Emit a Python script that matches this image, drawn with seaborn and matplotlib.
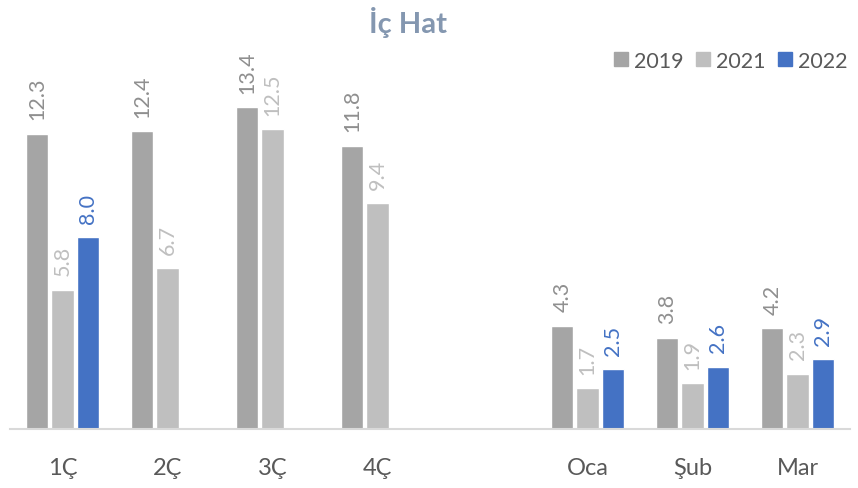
import numpy as np
import pandas as pd
import matplotlib
matplotlib.use("Agg")
import matplotlib.pyplot as plt
import seaborn as sns
from matplotlib.lines import Line2D

donemler = ["1Ç", "2Ç", "3Ç", "4Ç", "", "Oca", "Şub", "Mar"]
yillar = ["2019", "2021", "2022"]
v2019 = [12.3, 12.4, 13.4, 11.8, np.nan, 4.3, 3.8, 4.2]
v2021 = [5.8, 6.7, 12.5, 9.4, np.nan, 1.7, 1.9, 2.3]
v2022 = [8.0, np.nan, np.nan, np.nan, np.nan, 2.5, 2.6, 2.9]

renkler = {"2019": "#A5A5A5", "2021": "#BFBFBF", "2022": "#4472C4"}
etiket_renk = {"2019": "#8F8F8F", "2021": "#BFBFBF", "2022": "#4472C4"}

rows = []
for yil, vals in zip(yillar, [v2019, v2021, v2022]):
    for d, v in zip(donemler, vals):
        rows.append({"donem": d, "yil": yil, "deger": v})
df = pd.DataFrame(rows)

sns.set_style("white")
plt.rcParams["font.family"] = ["Lato", "DejaVu Sans"]

fig = plt.figure(figsize=(8.58, 4.89), dpi=100)
ax = fig.add_axes([10 / 858, 59 / 489, 840 / 858, 384 / 489])

sns.barplot(data=df, x="donem", y="deger", hue="yil", order=donemler,
            hue_order=yillar, palette=renkler, width=0.72, gap=0.12,
            saturation=1, errorbar=None, legend=False, ax=ax)

ax.set_ylim(0, 16)
ax.set_xlim(-0.5, len(donemler) - 0.5)

for cont, yil in zip(ax.containers, yillar):
    for bar in cont:
        h = bar.get_height()
        if np.isnan(h) or h == 0:
            continue
        ax.text(bar.get_x() + bar.get_width() / 2, h + 0.6, f"{h:.1f}",
                rotation=90, ha="center", va="bottom", fontsize=15.5,
                color=etiket_renk[yil])

ax.set_xlabel("")
ax.set_ylabel("")
ax.set_yticks([])
ax.tick_params(axis="x", length=0, labelsize=17, labelcolor="#595959", pad=20)
for s in ["top", "left", "right"]:
    ax.spines[s].set_visible(False)
ax.spines["bottom"].set_color("#D9D9D9")
ax.spines["bottom"].set_linewidth(1.5)

fig.text(408 / 858, 1 - 23 / 489, "İç Hat", ha="center", va="center",
         fontsize=21, fontweight="bold", color="#8497B0")

handles = [Line2D([], [], marker="s", linestyle="", markersize=10,
                  color=renkler[y]) for y in yillar]
fig.legend(handles, yillar, loc="center right", bbox_to_anchor=(1.01, 1 - 62 / 489),
           ncol=3, frameon=False, fontsize=15.5, handletextpad=0.0,
           handlelength=1.2, columnspacing=0.3, labelcolor="#595959")

fig.savefig("out.png", dpi=100)
